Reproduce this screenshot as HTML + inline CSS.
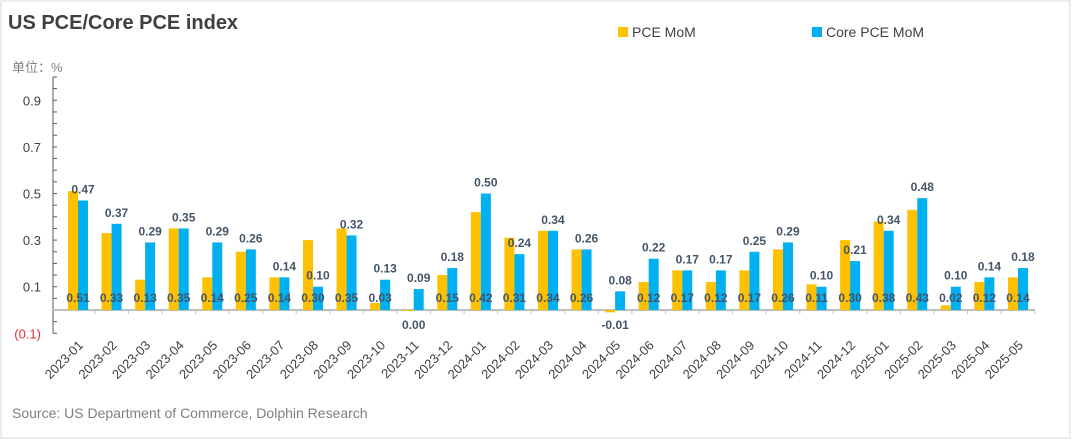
<!DOCTYPE html>
<html><head><meta charset="utf-8"><style>
body{margin:0;background:#fff;font-family:"Liberation Sans","Noto Sans CJK SC",sans-serif;}
#wrap{position:relative;width:1080px;height:444px;overflow:hidden;}
</style></head><body>
<div id="wrap">
<svg id="chart" width="1080" height="444">
<rect x="1" y="1" width="1069" height="437" fill="none" stroke="#d9d9d9"/>
<text x="8" y="29" font-size="20" font-weight="bold" fill="#404040">US PCE/Core PCE index</text>
<text x="12" y="72" font-size="13" fill="#808080">单位：%</text>
<rect x="618" y="27" width="10" height="10" fill="#FFC000"/>
<text x="632" y="37" font-size="14" fill="#404040">PCE MoM</text>
<rect x="812" y="27" width="10" height="10" fill="#00B0F0"/>
<text x="826" y="37" font-size="14" fill="#404040">Core PCE MoM</text>
<text x="12" y="418" font-size="14" fill="#7f7f7f">Source: US Department of Commerce, Dolphin Research</text>
<g id="plot"></g>
</svg>
</div>
<script>
const categories=["2023-01","2023-02","2023-03","2023-04","2023-05","2023-06","2023-07","2023-08","2023-09","2023-10","2023-11","2023-12","2024-01","2024-02","2024-03","2024-04","2024-05","2024-06","2024-07","2024-08","2024-09","2024-10","2024-11","2024-12","2025-01","2025-02","2025-03","2025-04","2025-05"];
const pceValues=[0.51,0.33,0.13,0.35,0.14,0.25,0.14,0.30,0.35,0.03,0.00,0.15,0.42,0.31,0.34,0.26,-0.01,0.12,0.17,0.12,0.17,0.26,0.11,0.30,0.38,0.43,0.02,0.12,0.14];
const coreValues=[0.47,0.37,0.29,0.35,0.29,0.26,0.14,0.10,0.32,0.13,0.09,0.18,0.50,0.24,0.34,0.26,0.08,0.22,0.17,0.17,0.25,0.29,0.10,0.21,0.34,0.48,0.10,0.14,0.18];
const yTicks=[-0.1,0.1,0.3,0.5,0.7,0.9];
const yTickLabels=["(0.1)","0.1","0.3","0.5","0.7","0.9"];
const NS="http://www.w3.org/2000/svg";
const g=document.getElementById('plot');
const y0=310, ppu=233, axX=53, x0=78, step=33.57, bw=10;
const y=v=>y0-v*ppu;
const x=i=>x0+i*step;
function mk(t,a,txt){const e=document.createElementNS(NS,t);for(const k in a)e.setAttribute(k,a[k]);if(txt!==undefined)e.textContent=txt;g.appendChild(e);return e;}
// axis
let e=mk('line',{x1:axX,y1:y(1.0),x2:axX,y2:y(-0.1),stroke:'#595959'});


for(let v=-0.1;v<=1.0001;v+=0.05){mk('line',{x1:axX,y1:y(v),x2:axX+4,y2:y(v),stroke:'#595959'});}
yTicks.forEach((v,i)=>{const t=mk('text',{x:axX-12,y:y(v)+5,'font-size':13,'text-anchor':'end',fill:v<0?'#e03030':'#404040'},yTickLabels[i]);

});
e=mk('line',{x1:axX,y1:y0,x2:1035,y2:y0,stroke:'#bfbfbf','stroke-width':2});


categories.forEach((c,i)=>{
 const cx=x(i);
 mk('line',{x1:cx+step/2,y1:y0,x2:cx+step/2,y2:y0+4,stroke:'#bfbfbf'});
 const p=pceValues[i], q=coreValues[i];
 let b=mk('rect',{x:cx-bw,y:Math.min(y(p),y0),width:bw,height:Math.max(Math.abs(y(p)-y0),1),fill:'#FFC000'});
 
 
 b=mk('rect',{x:cx,y:Math.min(y(q),y0),width:bw,height:Math.abs(y(q)-y0),fill:'#00B0F0'});
 
 
 let lt=mk('text',{x:cx,y:p<=0?y0+19:y0-8,'font-size':12,'font-weight':'bold','text-anchor':'middle',fill:'#44546A'},p.toFixed(2));
 
 
 lt=mk('text',{x:cx+bw/2,y:y(q)-7,'font-size':12,'font-weight':'bold','text-anchor':'middle',fill:'#44546A'},q.toFixed(2));
 
 
 const xl=mk('text',{x:cx+6,y:346,'font-size':13,'text-anchor':'end',fill:'#404040',transform:`rotate(-45 ${cx+6} 346)`},c);
 
 
});
</script>
</body></html>
